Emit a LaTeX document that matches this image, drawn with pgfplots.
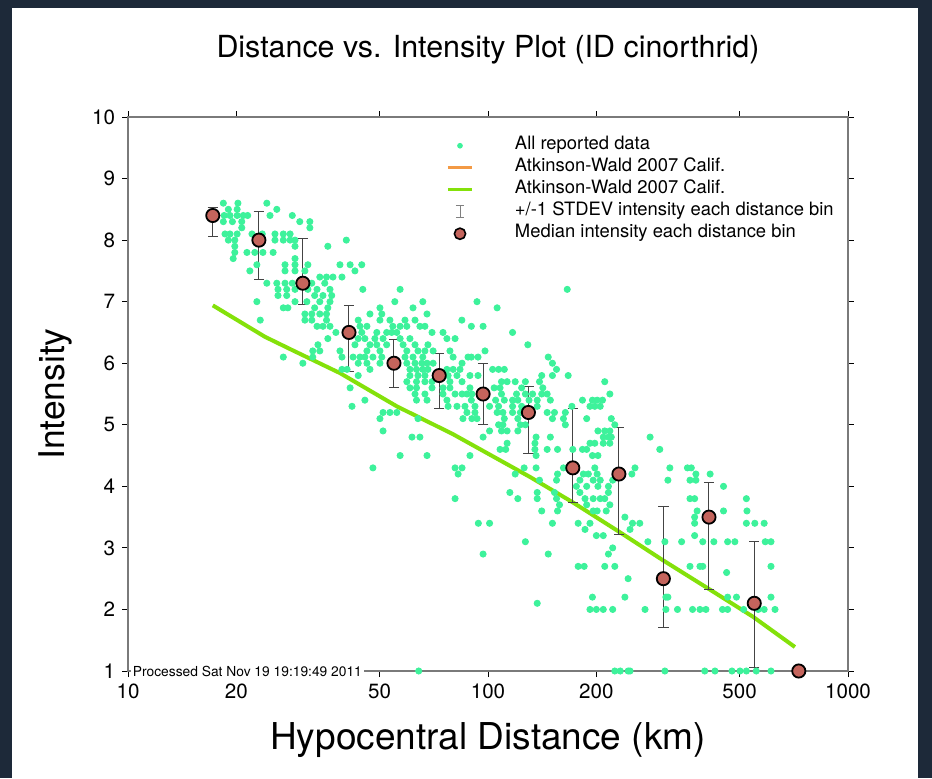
\documentclass[border=0pt]{standalone}
\usepackage{fontspec}
\setmainfont{TeX Gyre Heros}
\usepackage{pgfplots}
\pgfplotsset{compat=1.18}
\usepackage{pgfplotstable}
\definecolor{frame}{HTML}{1D2939}
\definecolor{dots}{HTML}{3DF29B}
\definecolor{awgreen}{HTML}{84E10A}
\definecolor{aworange}{HTML}{F39A45}
\definecolor{median}{HTML}{C4645C}
\definecolor{axisgray}{HTML}{7A7A7A}
\definecolor{barcol}{HTML}{444444}

% median intensity per distance bin, with +/-1 stdev
\pgfplotstableread{
km   int  ep    em
17.2 8.4  0.13  0.34
23.1 8.0  0.46  0.64
30.6 7.3  0.73  0.34
41.1 6.5  0.43  0.64
54.8 6.0  0.39  0.40
73.2 5.8  0.35  0.54
96.9 5.5  0.49  0.50
129.5 5.2 0.43  0.66
172  4.3  0.96  0.57
231  4.2  0.76  0.99
307  2.5  1.18  0.79
411  3.5  0.57  1.18
549  2.1  1.01  1.04
730  1.0  0     0
}\medians

\begin{document}
\begin{tikzpicture}
\fill[frame] (0,0) rectangle (466pt,389pt);
\fill[white] (6pt,0) rectangle (459pt,385pt);
\begin{axis}[
  at={(64pt,53.5pt)}, anchor=south west,
  scale only axis, width=360pt, height=277pt,
  xmode=log, xmin=10, xmax=1000, ymin=1, ymax=10,
  xtick={10,20,50,100,200,500,1000},
  xticklabels={10,20,50,100,200,500,1000},
  minor xtick={}, ytick={1,2,...,10},
  tick align=outside, major tick length=3pt,
  tick style={black,line width=0.5pt},
  axis line style={axisgray,line width=0.6pt},
  tick label style={font=\fontsize{10.3}{12}\selectfont},
  /pgf/number format/assume math mode=true,
  clip=false,
  title={Distance vs. Intensity Plot (ID cinorthrid)},
  title style={at={(axis description cs:0.5,1.121)},anchor=center,yshift=-6pt,font=\fontsize{15.2}{18}\selectfont},
  xlabel={Hypocentral Distance (km)},
  xlabel style={at={(axis description cs:0.5,-0.1245)},anchor=center,font=\fontsize{18.5}{22}\selectfont},
  ylabel={Intensity},
  ylabel style={at={(axis description cs:-0.1014,0.5)},anchor=center,font=\fontsize{17.7}{21}\selectfont},
  legend style={draw=none,fill=none,at={(0.4333,0.968)},anchor=north west,
    inner sep=0pt,outer sep=0pt,row sep=0pt,
    font=\fontsize{9.2}{11}\selectfont,
    nodes={inner sep=0pt,text height=7.2pt,text depth=3.8pt}},
  legend cell align=left,
]
% all reported data
\addplot[only marks,mark=*,mark size=1.55pt,color=dots,mark options={fill=dots,draw=dots},
  legend image code/.code={\path[draw=none] (0pt,-1pt) rectangle (37.5pt,1pt); \fill[dots] (10pt,0pt) circle (1.2pt);}]
coordinates {
(18.4,8.6) (20.2,8.6) (24.3,8.6)
(19.0,8.5) (20.1,8.5) (25.9,8.5)
(18.5,8.4) (19.2,8.4) (20.1,8.4) (20.9,8.4) (21.5,8.4) (24.8,8.4) (28.6,8.4)
(18.4,8.3) (19.5,8.3) (20.7,8.3) (30.0,8.3) (32.0,8.3)
(20.7,8.2) (32.0,8.2)
(18.6,8.1) (19.2,8.1) (20.1,8.1) (22.1,8.1) (23.6,8.1) (25.6,8.1) (27.0,8.1) (28.2,8.1)
(19.0,8) (19.8,8) (25.6,8) (27.0,8) (28.2,8) (29.1,8) (40.4,8)
(19.8,7.9) (29.1,7.9) (35.9,7.9)
(19.8,7.8) (21.4,7.8) (22.5,7.8) (23.7,7.8) (25.3,7.8)
(19.6,7.7) (29.1,7.7)
(22.8,7.6) (27.3,7.6) (29.1,7.6) (31.6,7.6) (38.8,7.6) (41.4,7.6) (44.6,7.6)
(21.8,7.5) (27.3,7.5) (29.1,7.5) (31.0,7.5) (42.7,7.5)
(34.1,7.4) (35.6,7.4) (37.1,7.4) (39.3,7.4)
(24.3,7.3) (25.9,7.3) (27.3,7.3) (28.6,7.3) (32.4,7.3) (35.2,7.3)
(26.1,7.2) (27.6,7.2) (29.1,7.2) (31.6,7.2) (33.5,7.2) (36.4,7.2) (44.9,7.2) (57.0,7.2) (166,7.2)
(26.1,7.1) (27.6,7.1) (33.0,7.1) (34.8,7.1) (36.8,7.1)
(22.8,7) (29.1,7) (31.4,7) (34.1,7) (36.4,7) (55.1,7) (65.9,7) (93.2,7)
(27.0,6.9) (27.8,6.9) (33.0,6.9) (35.9,6.9) (50.1,6.9) (61.9,6.9) (106,6.9)
(31.0,6.8) (32.4,6.8) (34.1,6.8) (35.6,6.8) (47.0,6.8) (50.7,6.8) (67.7,6.8)
(23.3,6.7) (31.0,6.7) (32.4,6.7) (35.6,6.7) (43.6,6.7) (50.1,6.7) (53.4,6.7) (58.8,6.7) (62.7,6.7) (84.6,6.7)
(33.5,6.6) (34.8,6.6) (36.4,6.6) (44.1,6.6) (46.1,6.6) (54.4,6.6) (57.0,6.6) (59.5,6.6) (64.7,6.6) (66.8,6.6) (89.9,6.6) (96.9,6.6)
(37.8,6.5) (44.6,6.5) (49.1,6.5) (52.3,6.5) (54.0,6.5) (55.8,6.5) (69.9,6.5) (75.0,6.5) (117,6.5)
(35.9,6.4) (43.6,6.4) (45.5,6.4) (48.5,6.4) (51.1,6.4) (57.0,6.4) (60.7,6.4) (76.9,6.4) (81.0,6.4)
(33.7,6.3) (42.7,6.3) (47.0,6.3) (49.1,6.3) (52.3,6.3) (58.1,6.3) (62.7,6.3) (68.1,6.3) (129,6.3)
(32.6,6.2) (34.1,6.2) (38.8,6.2) (46.1,6.2) (50.1,6.2) (59.5,6.2) (63.9,6.2) (66.8,6.2) (70.4,6.2) (78.4,6.2) (98.1,6.2)
(27.0,6.1) (32.6,6.1) (39.3,6.1) (42.2,6.1) (44.1,6.1) (45.5,6.1) (47.9,6.1) (50.7,6.1) (58.8,6.1) (61.9,6.1) (65.9,6.1) (80.0,6.1) (88.0,6.1) (89.9,6.1) (93.8,6.1) (147,6.1)
(30.6,6) (43.6,6) (46.1,6) (50.1,6) (59.5,6) (62.7,6) (65.5,6) (67.7,6) (70.4,6) (84.7,6) (151,6)
(39.3,5.9) (40.6,5.9) (47.0,5.9) (60.7,5.9) (63.3,5.9) (65.9,5.9) (68.1,5.9) (76.9,5.9) (80.0,5.9) (83.6,5.9) (103,5.9) (107,5.9) (111,5.9) (155,5.9)
(43.6,5.8) (60.7,5.8) (63.9,5.8) (66.8,5.8) (77.5,5.8) (82.0,5.8) (89.1,5.8) (93.8,5.8) (141,5.8) (151,5.8) (167,5.8)
(59.5,5.7) (63.3,5.7) (66.8,5.7) (69.9,5.7) (78.4,5.7) (84.7,5.7) (109,5.7) (113,5.7) (119,5.7) (127,5.7) (139,5.7) (211,5.7)
(41.4,5.6) (60.7,5.6) (63.3,5.6) (69.9,5.6) (75.0,5.6) (78.4,5.6) (89.1,5.6) (104,5.6) (108,5.6) (124,5.6) (142,5.6)
(62.7,5.5) (66.8,5.5) (75.0,5.5) (81.0,5.5) (84.7,5.5) (87.4,5.5) (90.2,5.5) (109,5.5) (120,5.5) (127,5.5) (133,5.5) (141,5.5) (146,5.5) (218,5.5)
(45.5,5.4) (63.3,5.4) (67.7,5.4) (76.9,5.4) (89.9,5.4) (105,5.4) (111,5.4) (117,5.4) (121,5.4) (130,5.4) (137,5.4) (149,5.4) (183,5.4) (195,5.4) (201,5.4) (208,5.4)
(41.9,5.3) (77.5,5.3) (82.0,5.3) (86.3,5.3) (92.0,5.3) (101,5.3) (107,5.3) (117,5.3) (124,5.3) (137,5.3) (171,5.3) (192,5.3) (198,5.3) (205,5.3)
(51.1,5.2) (53.4,5.2) (55.8,5.2) (87.4,5.2) (92.0,5.2) (106,5.2) (110,5.2) (117,5.2) (123,5.2) (146,5.2) (153,5.2) (164,5.2)
(50.1,5.1) (63.9,5.1) (85.2,5.1) (90.2,5.1) (93.2,5.1) (111,5.1) (121,5.1) (151,5.1) (162,5.1) (188,5.1) (220,5.1)
(107,5) (110,5) (123,5) (127,5) (164,5) (225,5)
(51.1,4.9) (101,4.9) (109,4.9) (113,4.9) (121,4.9) (202,4.9) (211,4.9) (218,4.9)
(61.5,4.8) (64.7,4.8) (96.9,4.8) (136,4.8) (149,4.8) (209,4.8) (216,4.8) (220,4.8) (282,4.8)
(113,4.7) (135,4.7) (192,4.7) (198,4.7) (209,4.7) (218,4.7)
(108,4.6) (112,4.6) (135,4.6) (146,4.6) (156,4.6) (172,4.6) (183,4.6) (188,4.6) (300,4.6)
(57.0,4.5) (67.7,4.5) (89.1,4.5) (136,4.5) (195,4.5) (202,4.5)
(47.9,4.3) (81.0,4.3) (84.7,4.3) (126,4.3) (136,4.3) (162,4.3) (198,4.3) (256,4.3) (320,4.3) (358,4.3) (367,4.3)
(82.6,4.2) (119,4.2) (156,4.2) (184,4.2) (190,4.2) (201,4.2) (251,4.2) (378,4.2) (414,4.2)
(139,4.1) (155,4.1) (180,4.1) (196,4.1) (205,4.1) (222,4.1) (316,4.1) (364,4.1) (378,4.1)
(176,4) (188,4) (202,4) (216,4) (451,4)
(115,3.9) (137,3.9) (153,3.9) (180,3.9) (216,3.9)
(81.0,3.8) (121,3.8) (137,3.8) (155,3.8) (186,3.8) (196,3.8) (205,3.8) (211,3.8) (364,3.8) (375,3.8) (522,3.8)
(158,3.7) (188,3.7) (218,3.7)
(141,3.6) (156,3.6) (196,3.6) (201,3.6) (213,3.6) (381,3.6) (451,3.6) (524,3.6)
(240,3.5) (375,3.5)
(94.0,3.4) (101,3.4) (151,3.4) (178,3.4) (192,3.4) (252,3.4) (264,3.4) (375,3.4) (522,3.4) (551,3.4) (585,3.4)
(186,3.3) (248,3.3)
(200,3.2) (209,3.2) (375,3.2)
(127,3.1) (278,3.1) (310,3.1) (345,3.1) (395,3.1) (424,3.1) (463,3.1) (485,3.1) (589,3.1) (611,3.1)
(222,3)
(96.9,2.9) (147,2.9) (216,2.9)
(178,2.7) (185,2.7) (211,2.7) (225,2.7) (364,2.7) (388,2.7) (395,2.7) (611,2.7)
(460,2.6)
(245,2.5)
(195,2.2) (240,2.2) (312,2.2) (316,2.2) (463,2.2) (490,2.2) (611,2.2)
(137,2.1)
(192,2) (200,2) (209,2) (222,2) (273,2) (312,2) (336,2) (370,2) (388,2) (403,2) (448,2) (463,2) (513,2) (563,2) (585,2) (627,2)
(64.2,1) (225,1) (233,1) (245,1) (248,1) (310,1) (400,1) (427,1) (476,1) (501,1) (522,1) (556,1) (611,1)
};
\addlegendimage{legend image code/.code={\path[draw=none] (0pt,-1pt) rectangle (37.5pt,1pt); \draw[aworange,line width=1.6pt] (4pt,0pt) -- (16pt,0pt);}}
% Atkinson-Wald 2007 prediction
\addplot[awgreen,line width=2pt,
  legend image code/.code={\path[draw=none] (0pt,-1pt) rectangle (37.5pt,1pt); \draw[awgreen,line width=1.6pt] (4pt,0pt) -- (16pt,0pt);}]
coordinates {
(17.2,6.94) (24.0,6.43) (28.2,6.23) (38.8,5.84) (55.8,5.30) (79.8,4.85)
(131,4.15) (172,3.74) (233,3.25) (306,2.80) (414,2.32) (545,1.88) (712,1.39)
};
% +/-1 stdev bars
\addplot[only marks,mark=none,
  legend image code/.code={\path[draw=none] (0pt,-1pt) rectangle (37.5pt,1pt); \draw[gray,line width=0.4pt] (10pt,-3pt) -- (10pt,3pt) (8pt,3pt) -- (12pt,3pt) (8pt,-3pt) -- (12pt,-3pt);},
  error bars/.cd,y dir=both,y explicit,
  error bar style={barcol,line width=0.5pt},
  error mark options={rotate=90,barcol,mark size=2.6pt,line width=0.5pt}]
  table[x=km,y=int,y error plus=ep,y error minus=em] \medians;
% medians
\addplot[only marks,mark=*,mark size=3.3pt,mark options={fill=median,draw=black,line width=0.9pt},
  legend image code/.code={\path[draw=none] (0pt,-1pt) rectangle (37.5pt,1pt); \draw[black,fill=median,line width=0.8pt] (10pt,0pt) circle (2.8pt);}]
  table[x=km,y=int] \medians;
\legend{All reported data,Atkinson-Wald 2007 Calif.,Atkinson-Wald 2007 Calif.,+/-1 STDEV intensity each distance bin,Median intensity each distance bin}
\node[fill=white,inner sep=0.8pt,anchor=west,font=\fontsize{6.9}{8}\selectfont]
  at (axis description cs:0.004,0) {Processed Sat Nov 19 19:19:49 2011};
\end{axis}
\pgfresetboundingbox
\useasboundingbox (0,0) rectangle (466pt,389pt);
\end{tikzpicture}
\end{document}
